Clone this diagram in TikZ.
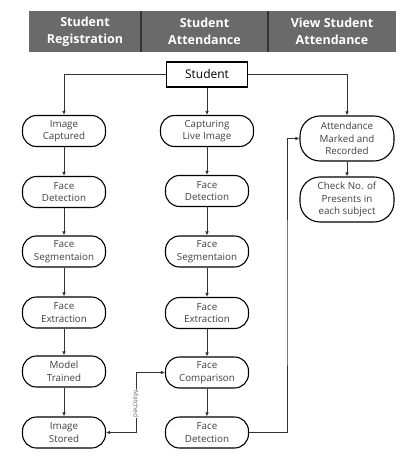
\documentclass[tikz,border=0pt]{standalone}
\usepackage{fontspec}
\setmainfont{Open Sans}
\usetikzlibrary{arrows.meta}
\definecolor{hdrgray}{HTML}{6A6A6A}
\definecolor{linegray}{HTML}{333333}
\begin{document}
\begin{tikzpicture}[
  font=\fontsize{9.8}{12.5}\selectfont,
  x=1pt, y=-1pt,
  pill/.style={draw=black, line width=1.1pt, rounded corners=14pt, minimum width=83pt, minimum height=31pt, align=center, inner sep=1pt, text=black!75},
  tall/.style={rounded corners=20pt, minimum width=94pt, minimum height=45pt},
  hdr/.style={text=white, align=center, font=\bfseries\fontsize{12.5}{17}\selectfont},
  tip/.tip={Latex[length=4pt,width=3.6pt]},
  arr/.style={-tip, draw=linegray, line width=0.9pt},
]
\useasboundingbox (0,0) rectangle (404,462);
% header bar
\fill[hdrgray] (29,11) rectangle (396,52);
\draw[linegray, line width=1.2pt] (141,11) -- (141,52) (268,11) -- (268,52);
\foreach \n/\x/\t in {reg/85/{Student\\Registration}, att/204.5/{Student\\Attendance}, view/332/{View Student\\Attendance}}
  \node[hdr] (h-\n) at (\x,31.5) {\t};
\node[draw=black, line width=1.1pt, minimum width=81pt, minimum height=25pt, font=\fontsize{12}{14}\selectfont] (stu) at (207,74.5) {Student};
% left column
\foreach \n/\y/\t in {img/131/{Image\\Captured}, det/192/{Face\\Detection}, seg/251.5/{Face\\Segmentaion}, ext/312.5/{Face\\Extraction}, mod/371.5/{Model\\Trained}, sto/432.5/{Image\\Stored}}
  \node[pill] (l-\n) at (64,\y) {\t};
% middle column
\node[pill, minimum width=93pt] (c-cap) at (207,131) {Capturing\\Live Image};
\foreach \n/\y/\t in {det/191/{Face\\Detection}, seg/251.5/{Face\\Segmentaion}, ext/313/{Face\\Extraction}, cmp/372.5/{Face\\Comparison}, fdt/432.5/{Face\\Detection}}
  \node[pill] (c-\n) at (207,\y) {\t};
% right column
\node[pill, tall] (r-att) at (347,138.5) {Attendance\\Marked and\\Recorded};
\node[pill, tall] (r-chk) at (347,199.5) {Check No. of\\Presents in\\each subject};
\foreach \a/\b in {img/det, det/seg, seg/ext, ext/mod, mod/sto}
  \draw[arr] (l-\a) -- (l-\b);
\foreach \a/\b in {cap/det, det/seg, seg/ext, ext/cmp, cmp/fdt}
  \draw[arr] (c-\a) -- (c-\b);
\draw[arr] (r-att) -- (r-chk);
\draw[arr] (stu.west) -| (l-img.north);
\draw[arr] (stu.south) -- (c-cap.north);
\draw[arr] (stu.east) -| (r-att.north);
\coordinate (mt) at (136,404);
\coordinate (up) at (287,300);
\draw[arr, tip-tip] (c-cmp.west) -| (mt) |- (l-sto.east);
\node[rotate=-90, fill=white, inner sep=1pt, text=black!60, font=\fontsize{6.5}{7}\selectfont] (mlbl) at (mt) {Matched};
\draw[arr] (c-fdt.east) -| (up) |- (r-att.west);
\end{tikzpicture}
\end{document}
